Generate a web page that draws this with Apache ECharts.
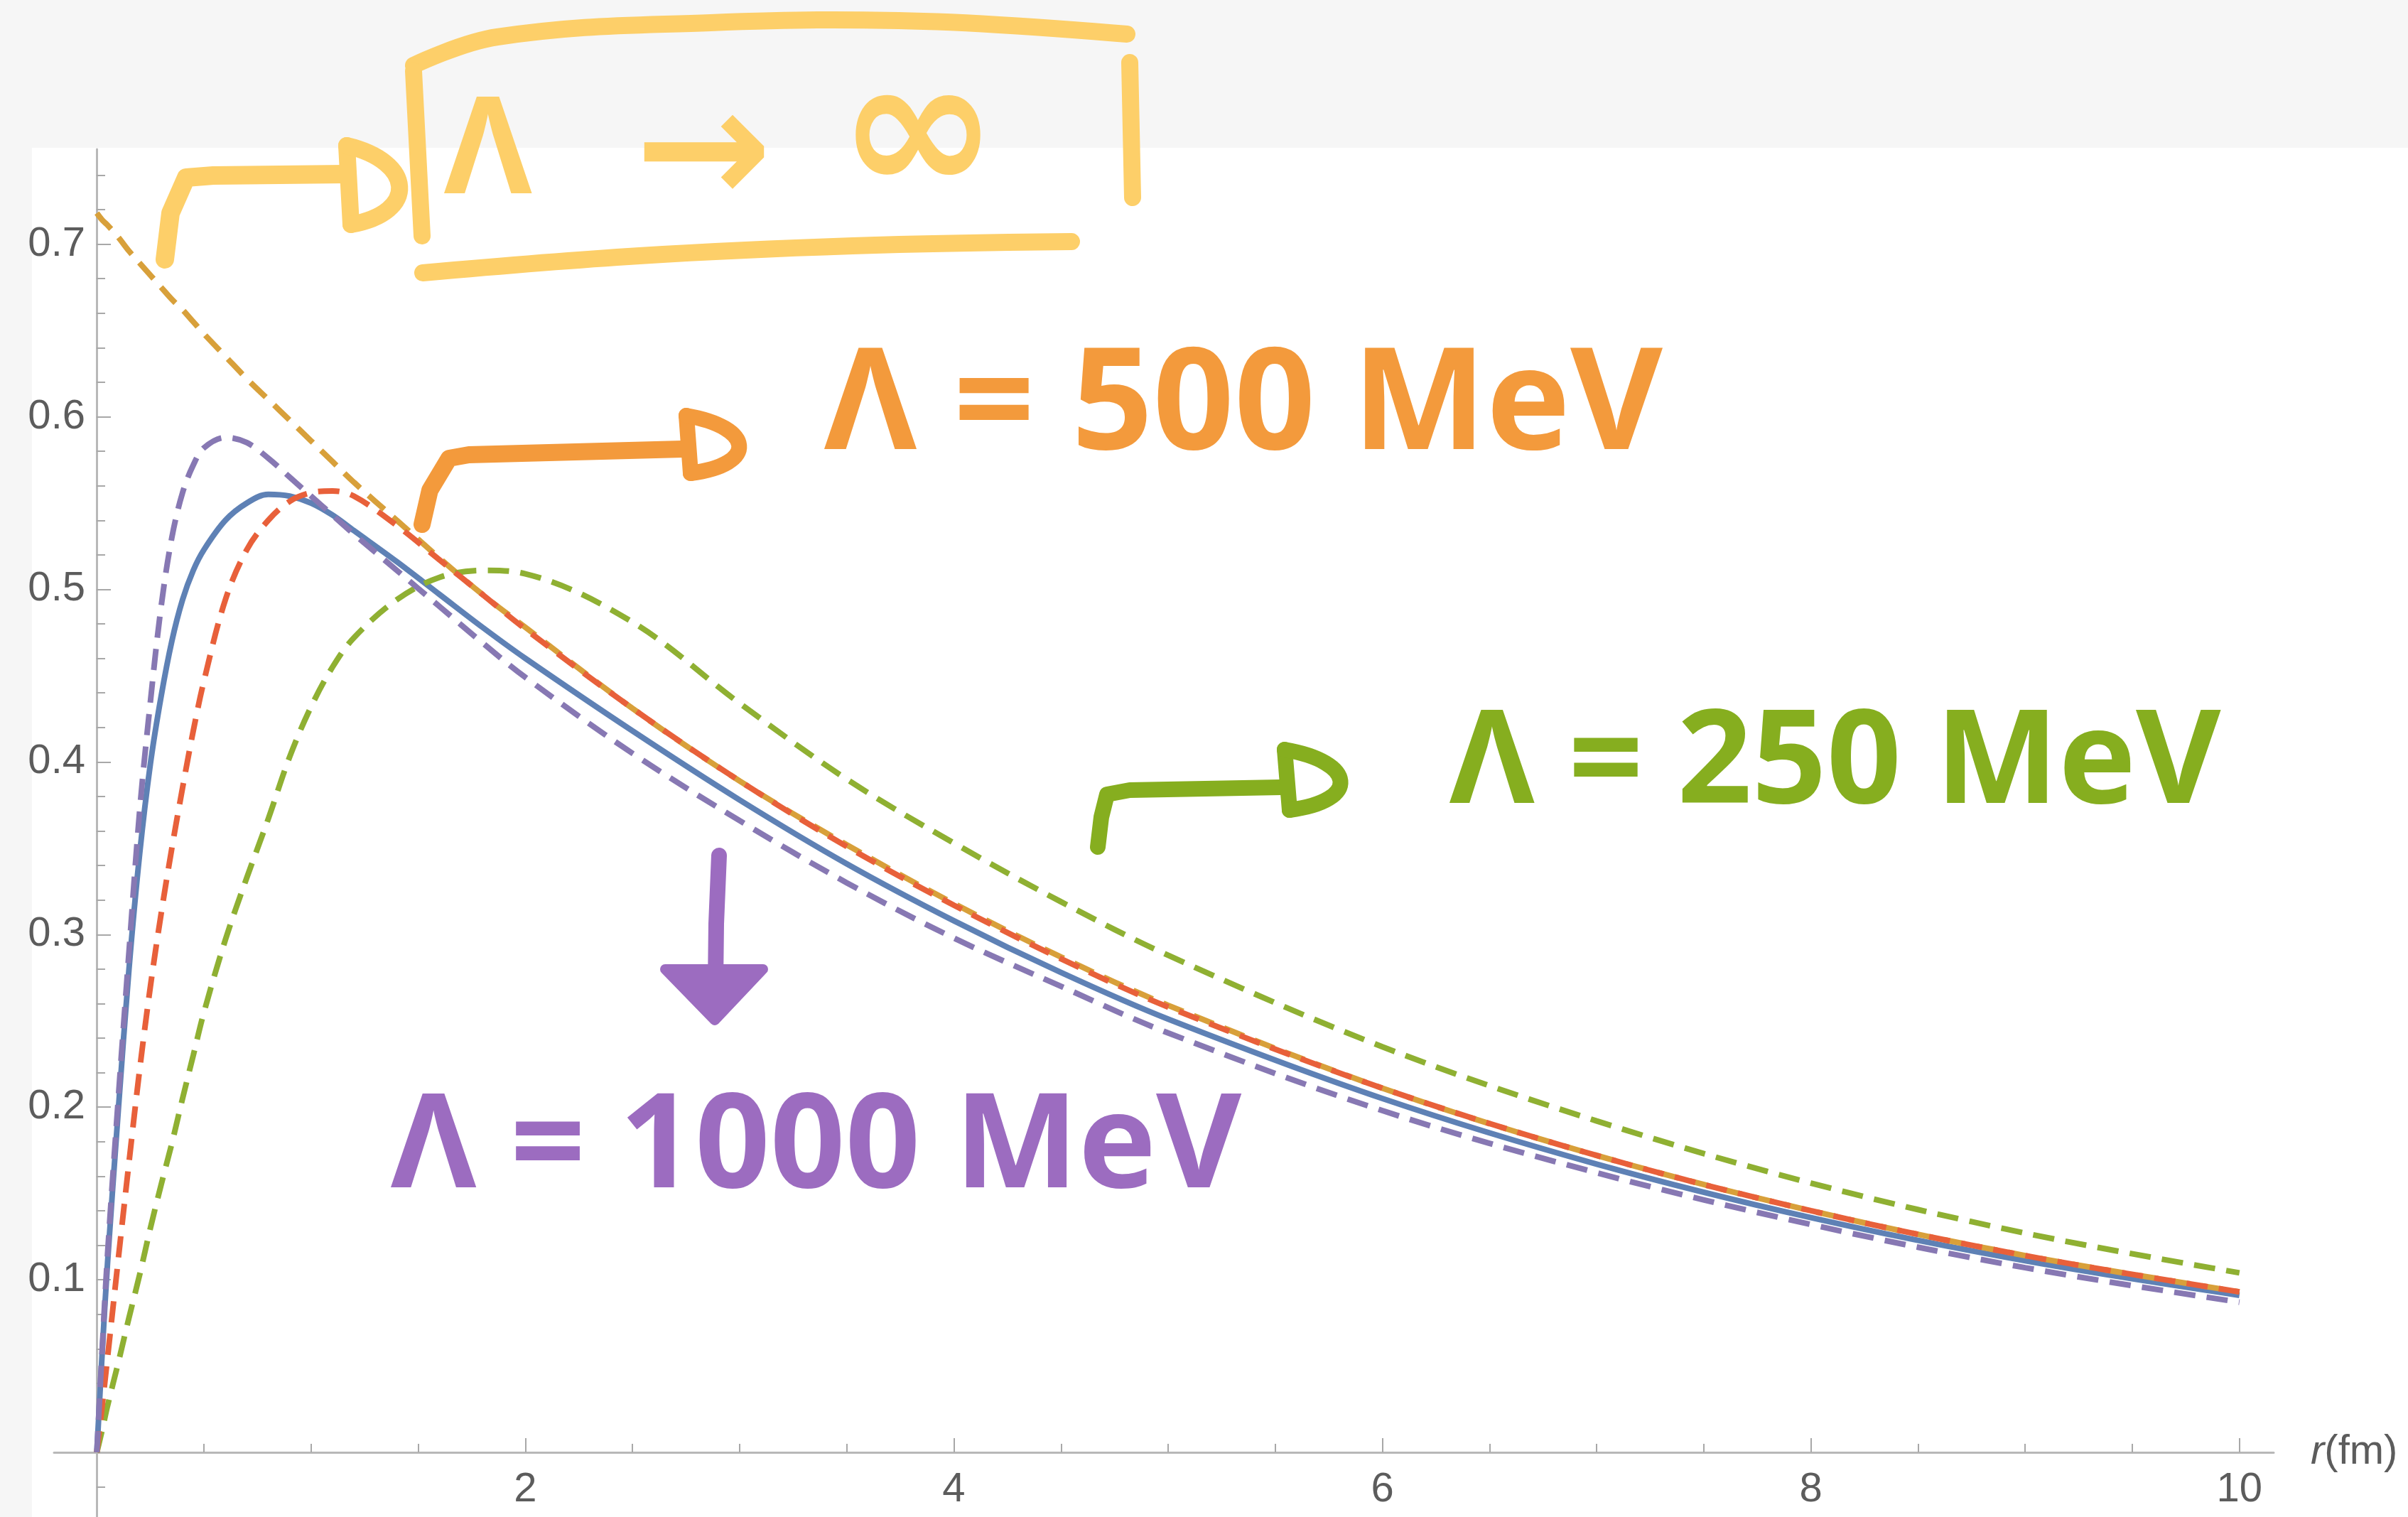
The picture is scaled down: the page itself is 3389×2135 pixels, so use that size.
<!DOCTYPE html>
<html>
<head>
<meta charset="utf-8">
<title>u(r) for different cutoffs</title>
<script src="https://cdn.jsdelivr.net/npm/echarts@6.0.0/dist/echarts.min.js"></script>
<style>
  html, body { margin: 0; padding: 0; background: #f6f6f6; }
  #main { width: 3389px; height: 2135px; }
</style>
</head>
<body>
<div id="main"></div>
<script>
// r in fm, shared by all curves
var rValues = [0, 0.025, 0.05, 0.1, 0.15, 0.2, 0.25, 0.3, 0.35, 0.4, 0.45, 0.5, 0.6, 0.7, 0.8, 0.9,
  1.0, 1.1, 1.2, 1.4, 1.6, 1.8, 2.0, 2.5, 3, 3.5, 4, 4.5, 5, 6, 7, 8, 9, 10];

// blue solid curve
var uFull = [0, 0.058, 0.110, 0.198, 0.280, 0.347, 0.399, 0.438, 0.470, 0.494, 0.511, 0.523, 0.540, 0.550, 0.555, 0.554,
  0.550, 0.543, 0.534, 0.516, 0.497, 0.478, 0.460, 0.418, 0.378, 0.341, 0.308, 0.278, 0.251, 0.205, 0.167, 0.136, 0.111, 0.091];
// Λ -> ∞ (gold)
var uInf = [0.718, 0.714, 0.711, 0.704, 0.696, 0.689, 0.682, 0.675, 0.668, 0.662, 0.655, 0.648, 0.635, 0.622, 0.610, 0.598,
  0.586, 0.574, 0.562, 0.540, 0.518, 0.497, 0.478, 0.431, 0.389, 0.352, 0.318, 0.287, 0.259, 0.211, 0.172, 0.140, 0.114, 0.093];
// Λ = 250 MeV (green)
var u250 = [0, 0.013, 0.027, 0.052, 0.078, 0.103, 0.130, 0.155, 0.179, 0.205, 0.230, 0.255, 0.297, 0.333, 0.367, 0.403,
  0.432, 0.455, 0.472, 0.494, 0.507, 0.511, 0.509, 0.481, 0.434, 0.390, 0.353, 0.319, 0.288, 0.235, 0.192, 0.156, 0.127, 0.104];
// Λ = 500 MeV (red)
var u500 = [0, 0.027, 0.055, 0.112, 0.168, 0.222, 0.270, 0.312, 0.350, 0.385, 0.418, 0.447, 0.494, 0.523, 0.540, 0.551,
  0.556, 0.557, 0.554, 0.537, 0.517, 0.497, 0.477, 0.431, 0.389, 0.351, 0.317, 0.286, 0.258, 0.211, 0.172, 0.140, 0.114, 0.093];
// Λ = 1000 MeV (purple)
var u1000 = [0, 0.060, 0.115, 0.205, 0.290, 0.372, 0.435, 0.490, 0.530, 0.556, 0.572, 0.582, 0.588, 0.585, 0.576, 0.565,
  0.554, 0.543, 0.532, 0.511, 0.490, 0.469, 0.449, 0.405, 0.366, 0.330, 0.298, 0.270, 0.243, 0.198, 0.162, 0.132, 0.107, 0.087];

var xMajor = [2, 4, 6, 8, 10];
var xMinor = [0.5, 1, 1.5, 2.5, 3, 3.5, 4.5, 5, 5.5, 6.5, 7, 7.5, 8.5, 9, 9.5];
var yMajor = [0.1, 0.2, 0.3, 0.4, 0.5, 0.6, 0.7];
var yMinor = [-0.02, 0.02, 0.04, 0.06, 0.08, 0.12, 0.14, 0.16, 0.18, 0.22, 0.24, 0.26, 0.28,
  0.32, 0.34, 0.36, 0.38, 0.42, 0.44, 0.46, 0.48, 0.52, 0.54, 0.56, 0.58, 0.62, 0.64, 0.66, 0.68, 0.72, 0.74];

function pairs(ys) {
  return rValues.map(function (r, i) { return [r, ys[i]]; });
}

var axisColor = '#b8b8b8';
var tickColor = '#a8a8a8';
var labelFont = 'Liberation Sans';
// axes cross at (0, 0), which sits inside the grid
var xShift = -91;   // x axis moved up from grid bottom to y = 0
var yShift = -60;   // y axis moved right from grid left to r = 0

function curve(name, ys, color, dashed) {
  return {
    type: 'line',
    name: name,
    data: pairs(ys),
    xAxisIndex: 0,
    yAxisIndex: 0,
    showSymbol: false,
    smooth: 0.35,
    lineStyle: {
      color: color,
      width: 8,
      type: dashed ? [30, 16] : 'solid',
      cap: 'butt'
    }
  };
}

// hand-drawn strokes
function stroke(points, color, w, smooth) {
  return { type: 'polyline', z: 50, silent: true, shape: { points: points, smooth: smooth || 0 },
    style: { stroke: color, lineWidth: w, lineCap: 'round', lineJoin: 'round', fill: null } };
}
// the "D" shaped arrow head: a bar plus a bulge
function dHead(x1, y1, x2, y2, bulge, color, w) {
  return [
    stroke([[x1, y1], [x2, y2]], color, w),
    { type: 'bezierCurve', z: 50, silent: true,
      shape: { x1: x2, y1: y2, x2: x1, y2: y1,
        cpx1: x2 + bulge, cpy1: y2 - (y2 - y1) * 0.15, cpx2: x1 + bulge, cpy2: y1 + (y2 - y1) * 0.2 },
      style: { stroke: color, lineWidth: w, lineCap: 'round', fill: null } }
  ];
}
function label(text, x, y, size, color, align) {
  return { type: 'text', z: 50, silent: true,
    style: { text: text, x: x, y: y, align: align || 'left', verticalAlign: 'middle',
      font: 'bold ' + size + 'px "Open Sans"', fill: color } };
}

var yellow = '#FDCF69', orange = '#F39A3C', green = '#86AE1F', purple = '#9C6CC0';

var chart = echarts.init(document.getElementById('main'), null, { renderer: 'canvas' });

var option = {
  animation: false,
  backgroundColor: '#f6f6f6',
  grid: { left: 76, right: 189, top: 210, bottom: 0, outerBoundsMode: 'none', containLabel: false },
  xAxis: [
    {
      type: 'value', min: -0.2, max: 10.16, position: 'bottom', offset: xShift,
      axisLine: { show: true, onZero: false, lineStyle: { color: axisColor, width: 3 } },
      axisTick: { show: true, inside: true, length: 20, customValues: xMajor, lineStyle: { color: tickColor, width: 2 } },
      axisLabel: { show: true, customValues: xMajor, fontSize: 58, color: '#5c5c5c', fontFamily: labelFont, margin: 24 },
      splitLine: { show: false },
      name: '{i|r}(fm)',
      nameLocation: 'end',
      nameGap: 52,
      nameTextStyle: {
        fontSize: 58, color: '#5c5c5c', fontFamily: labelFont,
        rich: { i: { fontStyle: 'italic', fontSize: 58, color: '#5c5c5c', fontFamily: labelFont } }
      }
    },
    {
      type: 'value', min: -0.2, max: 10.16, position: 'bottom', offset: xShift,
      axisLine: { show: false, onZero: false },
      axisTick: { show: true, inside: true, length: 12, customValues: xMinor, lineStyle: { color: tickColor, width: 2 } },
      axisLabel: { show: false },
      splitLine: { show: false }
    }
  ],
  yAxis: [
    {
      type: 'value', min: -0.03745, max: 0.755, position: 'left', offset: yShift,
      axisLine: { show: true, onZero: false, lineStyle: { color: axisColor, width: 3 } },
      axisTick: { show: true, inside: true, length: 20, customValues: yMajor, lineStyle: { color: tickColor, width: 2 } },
      axisLabel: {
        show: true, customValues: yMajor, fontSize: 58, color: '#5c5c5c', fontFamily: labelFont, margin: 16,
        formatter: function (v) { return v.toFixed(1); }
      },
      splitLine: { show: false }
    },
    {
      type: 'value', min: -0.03745, max: 0.755, position: 'left', offset: yShift,
      axisLine: { show: false, onZero: false },
      axisTick: { show: true, inside: true, length: 12, customValues: yMinor, lineStyle: { color: tickColor, width: 2 } },
      axisLabel: { show: false },
      splitLine: { show: false }
    }
  ],
  series: [
    curve('full', uFull, '#5E81B5', false),
    curve('Λ→∞', uInf, '#D8A03A', true),
    curve('Λ=250 MeV', u250, '#8FB032', true),
    curve('Λ=500 MeV', u500, '#E8603A', true),
    curve('Λ=1000 MeV', u1000, '#8778B3', true)
  ],
  graphic: [].concat(
    // white plotting canvas
    [{ type: 'rect', z: -10, silent: true, shape: { x: 45, y: 208, width: 3344, height: 1927 }, style: { fill: '#ffffff' } }],

    // yellow: Λ -> ∞ inside a box
    [stroke([[232, 365], [240, 300], [262, 250], [300, 247], [486, 245]], yellow, 26)],
    dHead(488, 205, 494, 316, 95, yellow, 24),
    [
      stroke([[582, 92], [700, 52], [1000, 32], [1300, 30], [1586, 48]], yellow, 24, 0.4),
      stroke([[582, 100], [594, 332]], yellow, 24),
      stroke([[1590, 88], [1594, 278]], yellow, 24),
      stroke([[595, 384], [900, 360], [1200, 346], [1508, 340]], yellow, 24, 0.4),
      label('Λ', 625, 218, 190, yellow),
      { type: 'text', z: 50, silent: true, style: { text: '→', x: 990, y: 226, align: 'center', verticalAlign: 'middle', font: 'bold 230px "DejaVu Sans"', fill: yellow } },
      { type: 'text', z: 50, silent: true, style: { text: '∞', x: 1292, y: 200, align: 'center', verticalAlign: 'middle', font: 'bold 270px "DejaVu Sans"', fill: yellow } }
    ],

    // orange: Λ = 500 MeV
    [stroke([[594, 738], [605, 690], [632, 645], [660, 640], [960, 632]], orange, 24)],
    dHead(966, 585, 972, 666, 95, orange, 22),
    [label('Λ = 500 MeV', 1160, 575, 200, orange)],

    // green: Λ = 250 MeV
    [stroke([[1545, 1192], [1550, 1150], [1558, 1118], [1590, 1112], [1802, 1108]], green, 22)],
    dHead(1808, 1055, 1815, 1140, 100, green, 22),
    [label('Λ = 250 MeV', 2040, 1078, 184, green)],

    // purple: down arrow and Λ = 1000 MeV
    [
      stroke([[1012, 1204], [1008, 1300], [1007, 1385]], purple, 22),
      { type: 'polygon', z: 50, silent: true, shape: { points: [[936, 1364], [1074, 1364], [1006, 1436]] },
        style: { fill: purple, stroke: purple, lineWidth: 14, lineJoin: 'round' } },
      label('Λ = 1000 MeV', 550, 1618, 185, purple)
    ]
  )
};

chart.setOption(option);
</script>
</body>
</html>
